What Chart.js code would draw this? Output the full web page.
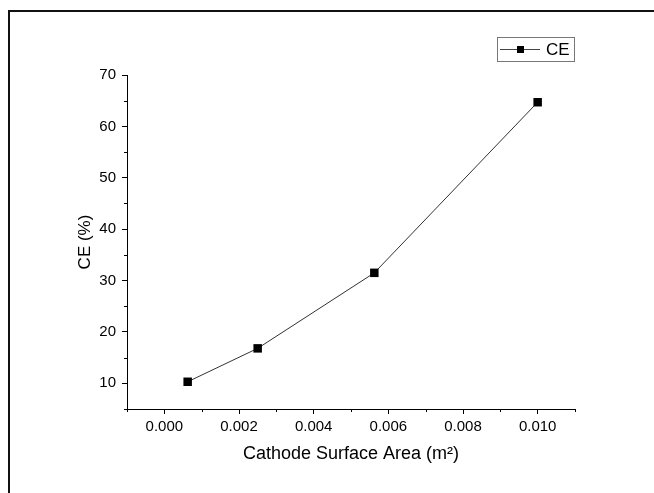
<!DOCTYPE html>
<html>
<head>
<meta charset="utf-8">
<script src="https://cdn.jsdelivr.net/npm/chart.js@4.4.0/dist/chart.umd.min.js"></script>
<style>
  html, body { margin: 0; padding: 0; background: #fff; }
  #wrap { width: 654px; height: 493px; }
</style>
</head>
<body>
<div id="wrap"><canvas id="chart" width="654" height="493"></canvas></div>
<script>
// data
const areas = [0.000625, 0.0025, 0.005625, 0.010];
const ceValues = [10.3, 16.8, 31.5, 64.7];

// axis ticks
const xMajorTicks = [0.000, 0.002, 0.004, 0.006, 0.008, 0.010];
const xMinorTicks = [-0.001, 0.001, 0.003, 0.005, 0.007, 0.009, 0.011];
const yMajorTicks = [10, 20, 30, 40, 50, 60, 70];
const yMinorTicks = [5, 15, 25, 35, 45, 55, 65];

const FONT = "'Liberation Sans', Arial, sans-serif";

// outer frame + minor ticks + legend box
const decorPlugin = {
  id: 'decor',
  beforeDraw(chart) {
    const ctx = chart.ctx;
    ctx.save();
    ctx.fillStyle = '#fff';
    ctx.fillRect(0, 0, chart.width, chart.height);
    ctx.strokeStyle = '#111';
    ctx.lineWidth = 2;
    ctx.beginPath();
    ctx.moveTo(9, chart.height);
    ctx.lineTo(9, 11);
    ctx.lineTo(chart.width, 11);
    ctx.stroke();
    ctx.restore();
  },
  afterDraw(chart) {
    const ctx = chart.ctx;
    const xs = chart.scales.x;
    const ys = chart.scales.y;
    const area = chart.chartArea;
    ctx.save();
    ctx.strokeStyle = '#000';
    ctx.lineWidth = 1;
    ctx.beginPath();
    xMinorTicks.forEach(v => {
      const px = Math.round(xs.getPixelForValue(v)) + 0.5;
      ctx.moveTo(px, area.bottom);
      ctx.lineTo(px, area.bottom + 3);
    });
    yMinorTicks.forEach(v => {
      const py = Math.round(ys.getPixelForValue(v)) + 0.5;
      ctx.moveTo(area.left, py);
      ctx.lineTo(area.left - 3, py);
    });
    ctx.stroke();

    // legend
    const lx = 497, ly = 37, lw = 77, lh = 24;
    ctx.strokeStyle = '#777';
    ctx.strokeRect(lx + 0.5, ly + 0.5, lw, lh);
    const my = ly + lh / 2 + 0.5;
    ctx.strokeStyle = '#444';
    ctx.beginPath();
    ctx.moveTo(lx + 3, my);
    ctx.lineTo(lx + 43, my);
    ctx.stroke();
    ctx.fillStyle = '#000';
    ctx.fillRect(lx + 20, my - 3.5, 7, 7);
    ctx.font = '17px ' + FONT;
    ctx.textBaseline = 'middle';
    ctx.fillText('CE', lx + 49, my + 1);
    ctx.restore();
  }
};

new Chart(document.getElementById('chart'), {
  type: 'scatter',
  data: {
    datasets: [{
      label: 'CE',
      data: areas.map((a, i) => ({ x: a, y: ceValues[i] })),
      showLine: true,
      borderColor: '#333',
      borderWidth: 1,
      backgroundColor: '#000',
      pointStyle: 'rect',
      pointRadius: 6,
      pointBorderWidth: 0,
      pointHoverRadius: 6
    }]
  },
  options: {
    responsive: false,
    animation: false,
    layout: { padding: { left: 0, top: 75, right: 79, bottom: 0 } },
    plugins: {
      legend: { display: false },
      tooltip: { enabled: false }
    },
    scales: {
      x: {
        type: 'linear',
        min: -0.001,
        max: 0.011,
        afterBuildTicks: (scale) => { scale.ticks = xMajorTicks.map(v => ({ value: v })); },
        afterFit: (scale) => { scale.height = 84; },
        border: { display: true, color: '#000', width: 1 },
        grid: { drawOnChartArea: false, drawTicks: true, tickLength: 5, color: '#000', tickColor: '#000' },
        ticks: {
          color: '#000',
          padding: 4,
          maxRotation: 0,
          font: { family: FONT, size: 15 },
          callback: (v) => Number(v).toFixed(3)
        },
        title: {
          display: true,
          text: 'Cathode Surface Area (m\u00B2)',
          color: '#000',
          font: { family: FONT, size: 18 },
          padding: { top: 0, bottom: 28 }
        }
      },
      y: {
        type: 'linear',
        min: 5,
        max: 70,
        afterBuildTicks: (scale) => { scale.ticks = yMajorTicks.map(v => ({ value: v })); },
        afterFit: (scale) => { scale.width = 127; },
        border: { display: true, color: '#000', width: 1 },
        grid: { drawOnChartArea: false, drawTicks: true, tickLength: 5, color: '#000', tickColor: '#000' },
        ticks: {
          color: '#000',
          padding: 6,
          font: { family: FONT, size: 15 }
        },
        title: {
          display: true,
          text: 'CE (%)',
          color: '#000',
          font: { family: FONT, size: 17 },
          padding: { top: 75, bottom: 0 }
        }
      }
    }
  },
  plugins: [decorPlugin]
});
</script>
</body>
</html>
